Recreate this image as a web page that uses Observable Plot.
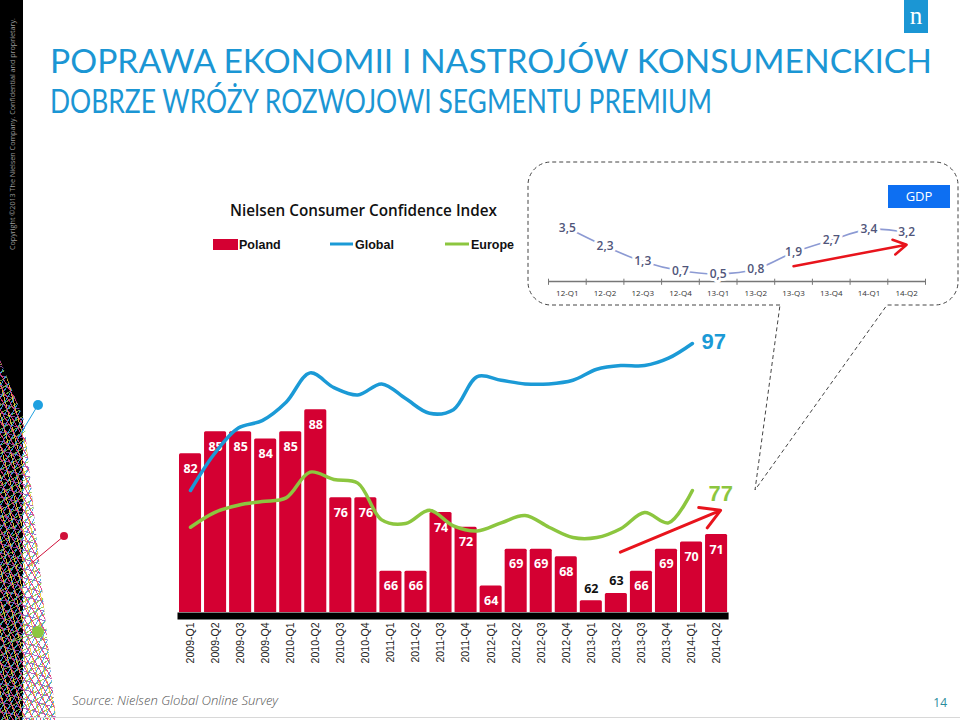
<!DOCTYPE html>
<html>
<head>
<meta charset="utf-8">
<script src="https://cdn.jsdelivr.net/npm/d3@7"></script>
<script src="https://cdn.jsdelivr.net/npm/@observablehq/plot@0.6"></script>
<style>
html,body{margin:0;padding:0;background:#fff;}
#page{position:relative;width:960px;height:720px;overflow:hidden;background:#fff;}
.abs{position:absolute;left:0;top:0;}
#strip{position:absolute;left:0;top:0;width:23px;height:720px;background:#000;}
#mesh{position:absolute;left:0;top:0;width:70px;height:720px;
 clip-path:polygon(0 360px, 24px 420px, 56px 720px, 0 720px);
 background:
  repeating-linear-gradient(60deg, transparent 0 5px, rgba(230,60,130,.9) 5px 6px),
  repeating-linear-gradient(-60deg, transparent 0 5px, rgba(60,160,230,.9) 5px 6px),
  repeating-linear-gradient(75deg, transparent 0 7px, rgba(240,200,60,.9) 7px 8px),
  repeating-linear-gradient(-30deg, transparent 0 6px, rgba(130,200,70,.85) 6px 7px),
  repeating-linear-gradient(15deg, transparent 0 8px, rgba(150,80,180,.85) 8px 9px);}
#gdpTag{position:absolute;left:888px;top:185px;width:62px;height:23px;background:#0d6ff2;color:#fff;
 font:13px "Open Sans",sans-serif;line-height:23px;text-align:center;}
#logo{position:absolute;left:904px;top:0;width:24px;height:33px;background:#1b96d4;color:#fff;
 font:25px "Liberation Serif",serif;line-height:32px;text-align:center;}
</style>
</head>
<body>
<div id="page">
  <div id="strip"></div>
  <div id="mesh"></div>
</div>
<script>
// ---------- data ----------
const quarters = ["2009-Q1","2009-Q2","2009-Q3","2009-Q4","2010-Q1","2010-Q2","2010-Q3","2010-Q4",
  "2011-Q1","2011-Q2","2011-Q3","2011-Q4","2012-Q1","2012-Q2","2012-Q3","2012-Q4",
  "2013-Q1","2013-Q2","2013-Q3","2013-Q4","2014-Q1","2014-Q2"];
const poland = [82,85,85,84,85,88,76,76,66,66,74,72,64,69,69,68,62,63,66,69,70,71];
const globalIdx = [77,82,85.5,86.5,89,93,91,90,91.5,89.5,87.5,88,92.5,92,91.5,91.5,92,93.5,94,94,95,97];
const europe = [72,74,75,75.5,76,79.5,78.5,78,73,72.5,74.3,72.2,71.5,72.6,73.6,72,70.6,70.6,71.8,74,72.6,77];
const outsideLabelQuarters = ["2013-Q1","2013-Q2"];
const trendArrow = [{from:"2013-Q2", to:"2014-Q2", v1:68.6, v2:74.3}];

const gdpQuarters = ["12-Q1","12-Q2","12-Q3","12-Q4","13-Q1","13-Q2","13-Q3","13-Q4","14-Q1","14-Q2"];
const gdpValues = [3.5,2.3,1.3,0.7,0.5,0.8,1.9,2.7,3.4,3.2];
const gdpArrow = [{from:"13-Q3", to:"14-Q2", v1:1.0, v2:2.4}];

const titleLines = ["POPRAWA EKONOMII I NASTROJÓW KONSUMENCKICH","DOBRZE WRÓŻY ROZWOJOWI SEGMENTU PREMIUM"];
const chartTitle = "Nielsen Consumer Confidence Index";
const legendNames = ["Poland","Global","Europe"];
const sourceText = "Source: Nielsen Global Online Survey";
const pageNumber = "14";
const copyrightText = "Copyright ©2013 The Nielsen Company. Confidential and proprietary.";

// ---------- colours ----------
const RED = "#d40032", BLUE = "#1b9ad6", GREEN = "#8cc63f", ARROW = "#e8141c";

const rows = quarters.map((q,i)=>({q, poland:poland[i], global:globalIdx[i], europe:europe[i]}));
const gdpRows = gdpQuarters.map((q,i)=>({q, v:gdpValues[i]}));
const page = document.getElementById("page");

// ---------- static overlay (titles, legend, callout, footer) ----------
const ov = d3.select(page).append("svg").attr("class","abs").attr("width",960).attr("height",720);
// decorative dots
[[38,405,18,438,5,"#1ea0e0"],[64,536,28,566,4,"#d0103a"],[38,632,12,642,6,"#8cc63f"]].forEach(([x,y,x2,y2,r,c])=>{
  ov.append("line").attr("x1",x).attr("y1",y).attr("x2",x2).attr("y2",y2).attr("stroke",c).attr("stroke-width",1);
  ov.append("circle").attr("cx",x).attr("cy",y).attr("r",r).attr("fill",c);
});
ov.append("text").attr("transform","translate(15,250) rotate(-90)").attr("font-family","Open Sans")
  .attr("font-size",7.5).attr("fill","#9a9a9a").attr("textLength",232).attr("lengthAdjust","spacingAndGlyphs").text(copyrightText);
ov.append("text").attr("x",50).attr("y",73).attr("font-family","Lato").attr("font-weight",400).attr("font-size",33).attr("fill","#1b96d4")
  .attr("textLength",882).attr("lengthAdjust","spacingAndGlyphs").text(titleLines[0]);
ov.append("text").attr("x",50).attr("y",113).attr("font-family","Lato").attr("font-weight",400).attr("font-size",33).attr("fill","#1b96d4")
  .attr("textLength",662).attr("lengthAdjust","spacingAndGlyphs").text(titleLines[1]);
ov.append("text").attr("x",230).attr("y",216).attr("font-family","Open Sans").attr("font-weight",600).attr("font-size",17)
  .attr("fill","#111").attr("textLength",267).attr("lengthAdjust","spacingAndGlyphs").text(chartTitle);
// legend
ov.append("rect").attr("x",213).attr("y",239).attr("width",25).attr("height",11).attr("fill",RED);
ov.append("line").attr("x1",330).attr("x2",353).attr("y1",244).attr("y2",244).attr("stroke",BLUE).attr("stroke-width",3);
ov.append("line").attr("x1",445).attr("x2",469).attr("y1",244).attr("y2",244).attr("stroke",GREEN).attr("stroke-width",3);
[[239,legendNames[0]],[355,legendNames[1]],[471,legendNames[2]]].forEach(([x,t])=>{
  ov.append("text").attr("x",x).attr("y",249).attr("font-family","Liberation Sans").attr("font-weight","bold")
    .attr("font-size",12.5).attr("fill","#111").text(t);
});
// callout
const r = 23;
ov.append("path").attr("fill","none").attr("stroke","#444").attr("stroke-width",1).attr("stroke-dasharray","4 3")
  .attr("d",`M780,305 L${528+r},305 A${r},${r} 0 0 1 528,${305-r} L528,${162+r} A${r},${r} 0 0 1 ${528+r},162 L${958-r},162 A${r},${r} 0 0 1 958,${162+r} L958,${305-r} A${r},${r} 0 0 1 ${958-r},305 L887,305 L755,490 L780,305`);
// footer
ov.append("line").attr("x1",23).attr("x2",960).attr("y1",717.5).attr("y2",717.5).attr("stroke","#d8d8d8");
ov.append("text").attr("x",72).attr("y",705).attr("font-family","Open Sans").attr("font-style","italic").attr("font-weight",300)
  .attr("font-size",13).attr("fill","#555").attr("textLength",206).attr("lengthAdjust","spacingAndGlyphs").text(sourceText);
ov.append("text").attr("x",947).attr("y",707).attr("text-anchor","end").attr("font-family","Open Sans")
  .attr("font-size",12).attr("fill","#2a8c9c").text(pageNumber);

const logo = document.createElement("div"); logo.id="logo"; logo.textContent="n"; page.appendChild(logo);
const tag = document.createElement("div"); tag.id="gdpTag"; tag.textContent="GDP"; page.appendChild(tag);

// ---------- main bars ----------
const W = 960, H = 720;
const yMin = 60.4, pxPerUnit = 7.35, mTop = 20, mBottom = 108;
const yDomain = [yMin, yMin + (H - mTop - mBottom)/pxPerUnit];

function place(svg, left, top){
  const d = document.createElement("div");
  d.style.position="absolute"; d.style.left=left+"px"; d.style.top=top+"px";
  d.appendChild(svg); page.appendChild(d);
}

const barsPlot = Plot.plot({
  width: W, height: H, marginLeft: 177.5, marginRight: 231.4, marginTop: mTop, marginBottom: mBottom,
  style: {background:"transparent", overflow:"visible"},
  x: {type:"band", domain: quarters, padding: 0, round: false, label: null},
  y: {domain: yDomain, axis: null},
  marks: [
    Plot.barY(rows, {x:"q", y:"poland", fill: RED, insetLeft:1.5, insetRight:1.5, rx:1.5, clip:true}),
    Plot.ruleY([yMin], {stroke:"#000", strokeWidth:7, dy:3.5}),
    Plot.text(rows.filter(d=>!outsideLabelQuarters.includes(d.q)), {x:"q", y:"poland", text:d=>String(d.poland),
      dy:15, fill:"white", fontWeight:"bold", fontSize:12.5, fontFamily:"Open Sans"}),
    Plot.text(rows.filter(d=>outsideLabelQuarters.includes(d.q)), {x:"q", y:"poland", text:d=>String(d.poland),
      dy:-12, fill:"#111", fontWeight:"bold", fontSize:12.5, fontFamily:"Open Sans"}),
    Plot.axisX({tickSize:0, tickPadding:10, tickRotate:-90, fontSize:10.5, fill:"#222", label:null, fontFamily:"Liberation Sans"}),
    Plot.arrow(trendArrow, {x1:"from", y1:"v1", x2:"to", y2:"v2", stroke: ARROW, strokeWidth:3, headLength:11, dx:4})
  ]
});
place(barsPlot, 0, 0);

// ---------- lines (overlay with own band scale) ----------
const lineStep = 23.9, lineFirst = 190;
const linesPlot = Plot.plot({
  width: W, height: H, marginLeft: lineFirst - lineStep/2, marginRight: W - (lineFirst - lineStep/2 + lineStep*quarters.length),
  marginTop: mTop, marginBottom: mBottom,
  style: {background:"transparent", overflow:"visible"},
  x: {type:"band", domain: quarters, padding: 0, round: false, axis: null},
  y: {domain: yDomain, axis: null},
  marks: [
    Plot.line(rows, {x:"q", y:"europe", stroke: GREEN, strokeWidth:3.5, curve:"catmull-rom"}),
    Plot.line(rows, {x:"q", y:"global", stroke: BLUE, strokeWidth:3.5, curve:"catmull-rom"}),
    Plot.text([rows[rows.length-1]], {x:"q", y:"global", text:d=>String(d.global), textAnchor:"start", dx:9, dy:-2,
      fill: BLUE, fontSize:22, fontWeight:"bold", fontFamily:"Liberation Sans"}),
    Plot.text([rows[rows.length-1]], {x:"q", y:"europe", text:d=>String(d.europe), textAnchor:"start", dx:16, dy:3,
      fill: GREEN, fontSize:22, fontWeight:"bold", fontFamily:"Liberation Sans"})
  ]
});
place(linesPlot, 0, 0);

// ---------- GDP inset ----------
const gW = 430, gH = 145, gML = 20, gMR = 33;
const gBand = (gW - gML - gMR) / gdpQuarters.length;
const gdpPlot = Plot.plot({
  width: gW, height: gH, marginLeft: gML, marginRight: gMR, marginTop: 52, marginBottom: 24,
  style: {background:"transparent", overflow:"visible"},
  x: {type:"band", domain: gdpQuarters, padding: 0, round: false, label: null},
  y: {domain: [0, 4.5], axis: null},
  marks: [
    Plot.ruleY([0], {stroke:"#777", strokeWidth:1.5}),
    Plot.ruleX(gdpQuarters, {x: d=>d, dx: -gBand/2, y1: 0.15, y2: -0.25, stroke:"#777"}),
    Plot.ruleX([gdpQuarters[gdpQuarters.length-1]], {x: d=>d, dx: gBand/2, y1: 0.15, y2: -0.25, stroke:"#777"}),
    Plot.line(gdpRows, {x:"q", y:"v", stroke:"#8c9ad3", strokeWidth:1.6, curve:"catmull-rom"}),
    Plot.text(gdpRows, {x:"q", y:"v", text: d=>d.v.toFixed(1).replace(".", ","), fill:"#50557a", stroke:"white",
      strokeWidth:6, fontSize:12, fontWeight:600, fontFamily:"Open Sans"}),
    Plot.arrow(gdpArrow, {x1:"from", y1:"v1", x2:"to", y2:"v2", stroke: ARROW, strokeWidth:2.5, headLength:9}),
    Plot.axisX({tickSize:0, tickPadding:9, fontSize:8, fill:"#333", label:null, fontFamily:"Open Sans"})
  ]
});
place(gdpPlot, 528, 160);
</script>
</body>
</html>
